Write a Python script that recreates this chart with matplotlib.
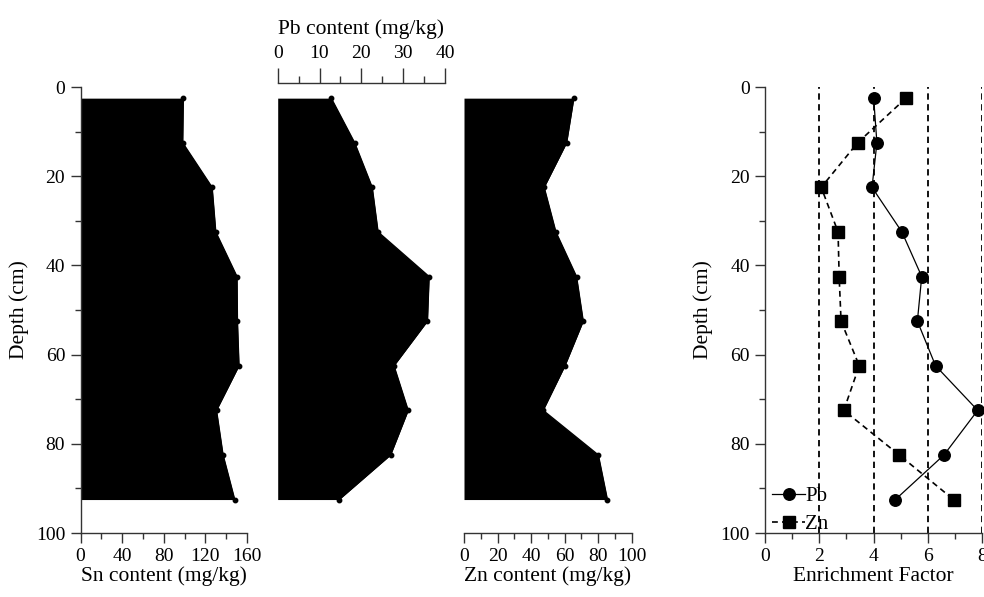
import matplotlib
matplotlib.use("Agg")
import matplotlib.pyplot as plt
from matplotlib.ticker import MultipleLocator

plt.rcParams['font.family'] = ['Liberation Serif', 'DejaVu Serif']
plt.rcParams['font.size'] = 14
plt.rcParams['xtick.labelsize'] = 14
plt.rcParams['ytick.labelsize'] = 14
plt.rcParams['axes.labelsize'] = 15.5

depth = [2.5, 12.5, 22.5, 32.5, 42.5, 52.5, 62.5, 72.5, 82.5, 92.5]
sn = [98.8, 98.2, 126.5, 130.0, 150.4, 150.8, 152.3, 130.7, 137.0, 148.2]
pb = [12.8, 18.4, 22.6, 24.0, 36.2, 35.8, 27.8, 31.2, 27.0, 14.7]
zn = [65.5, 61.2, 47.8, 54.8, 67.1, 71.1, 60.2, 47.2, 80.1, 85.5]
ef_pb = [4.00, 4.12, 3.94, 5.04, 5.77, 5.61, 6.28, 7.83, 6.59, 4.80]
ef_zn = [5.19, 3.41, 2.07, 2.69, 2.73, 2.80, 3.47, 2.90, 4.94, 6.94]
ef_ref = [2, 4, 6, 8]

W, H = 984, 597
fig = plt.figure(figsize=(W / 100, H / 100), dpi=100)

def box(x0, x1, y0=87, y1=533):
    return [x0 / W, 1 - y1 / H, (x1 - x0) / W, (y1 - y0) / H]

ax_sn = fig.add_axes(box(80.5, 247))
ax_pb = fig.add_axes(box(277.7, 445))
ax_zn = fig.add_axes(box(464, 631.7))
ax_ef = fig.add_axes(box(765, 982.3))

def fill_panel(ax, vals, xmax):
    ax.fill_betweenx(depth, 0, vals, color='black', lw=0)
    ax.plot(vals, depth, color='black', lw=1.0, marker='o', ms=3.2, clip_on=False)
    ax.set_xlim(0, xmax)
    ax.set_ylim(100, 0)
    for s in ax.spines.values():
        s.set_visible(False)
    ax.set_yticks([])

tick_kw_major = dict(which='major', length=7, width=1, direction='out', color='#333333', pad=4)
tick_kw_minor = dict(which='minor', length=4, width=1, direction='out', color='#333333')

# Sn
fill_panel(ax_sn, sn, 160)
ax_sn.spines['left'].set_visible(True)
ax_sn.spines['bottom'].set_visible(True)
ax_sn.set_yticks([0, 20, 40, 60, 80, 100])
ax_sn.yaxis.set_minor_locator(MultipleLocator(10))
ax_sn.set_xticks([0, 40, 80, 120, 160])
ax_sn.xaxis.set_minor_locator(MultipleLocator(20))
ax_sn.tick_params(**tick_kw_major)
ax_sn.tick_params(**tick_kw_minor)
ax_sn.set_xlabel('Sn content (mg/kg)', labelpad=1)
ax_sn.set_ylabel('Depth (cm)', labelpad=5)

# Pb
fill_panel(ax_pb, pb, 40)
ax_pb.spines['top'].set_visible(True)
ax_pb.spines['top'].set_position(('outward', 3))
ax_pb.xaxis.tick_top()
ax_pb.xaxis.set_label_position('top')
ax_pb.set_xticks([0, 10, 20, 30, 40])
ax_pb.xaxis.set_minor_locator(MultipleLocator(5))
ax_pb.tick_params(which='major', length=11, width=1, direction='out', color='#333333', pad=4)
ax_pb.tick_params(which='minor', length=5, width=1, direction='out', color='#333333')
ax_pb.set_xlabel('Pb content (mg/kg)', labelpad=8)

# Zn
fill_panel(ax_zn, zn, 100)
ax_zn.spines['bottom'].set_visible(True)
ax_zn.set_xticks([0, 20, 40, 60, 80, 100])
ax_zn.xaxis.set_minor_locator(MultipleLocator(10))
ax_zn.tick_params(**tick_kw_major)
ax_zn.tick_params(**tick_kw_minor)
ax_zn.set_xlabel('Zn content (mg/kg)', labelpad=1)

# Enrichment factor
for v in ef_ref:
    ax_ef.axvline(v, color='black', lw=1.3, ls=(0, (3.5, 2.5)), zorder=1)
ax_ef.plot(ef_pb, depth, color='black', lw=0.9, marker='o', ms=8.3,
           label='Pb', clip_on=False, zorder=3)
ax_ef.plot(ef_zn, depth, color='black', lw=1.2, ls=(0, (3.5, 2.5)), marker='s',
           ms=8, label='Zn', clip_on=False, zorder=3)
ax_ef.set_xlim(0, 8)
ax_ef.set_ylim(100, 0)
ax_ef.spines['top'].set_visible(False)
ax_ef.spines['right'].set_visible(False)
ax_ef.set_yticks([0, 20, 40, 60, 80, 100])
ax_ef.yaxis.set_minor_locator(MultipleLocator(10))
ax_ef.set_xticks([0, 2, 4, 6, 8])
ax_ef.xaxis.set_minor_locator(MultipleLocator(1))
ax_ef.tick_params(**tick_kw_major)
ax_ef.tick_params(**tick_kw_minor)
ax_ef.set_xlabel('Enrichment Factor', labelpad=1)
ax_ef.set_ylabel('Depth (cm)', labelpad=5)
ax_ef.legend(loc='lower left', bbox_to_anchor=(-0.035, -0.035), frameon=False,
             handlelength=1.6, handletextpad=0.0, borderpad=0.2,
             labelspacing=0.4, fontsize=15)

for ax in (ax_sn, ax_pb, ax_zn, ax_ef):
    for s in ax.spines.values():
        s.set_color('#333333')
        s.set_linewidth(1.0)

fig.savefig('out.png', dpi=100)
